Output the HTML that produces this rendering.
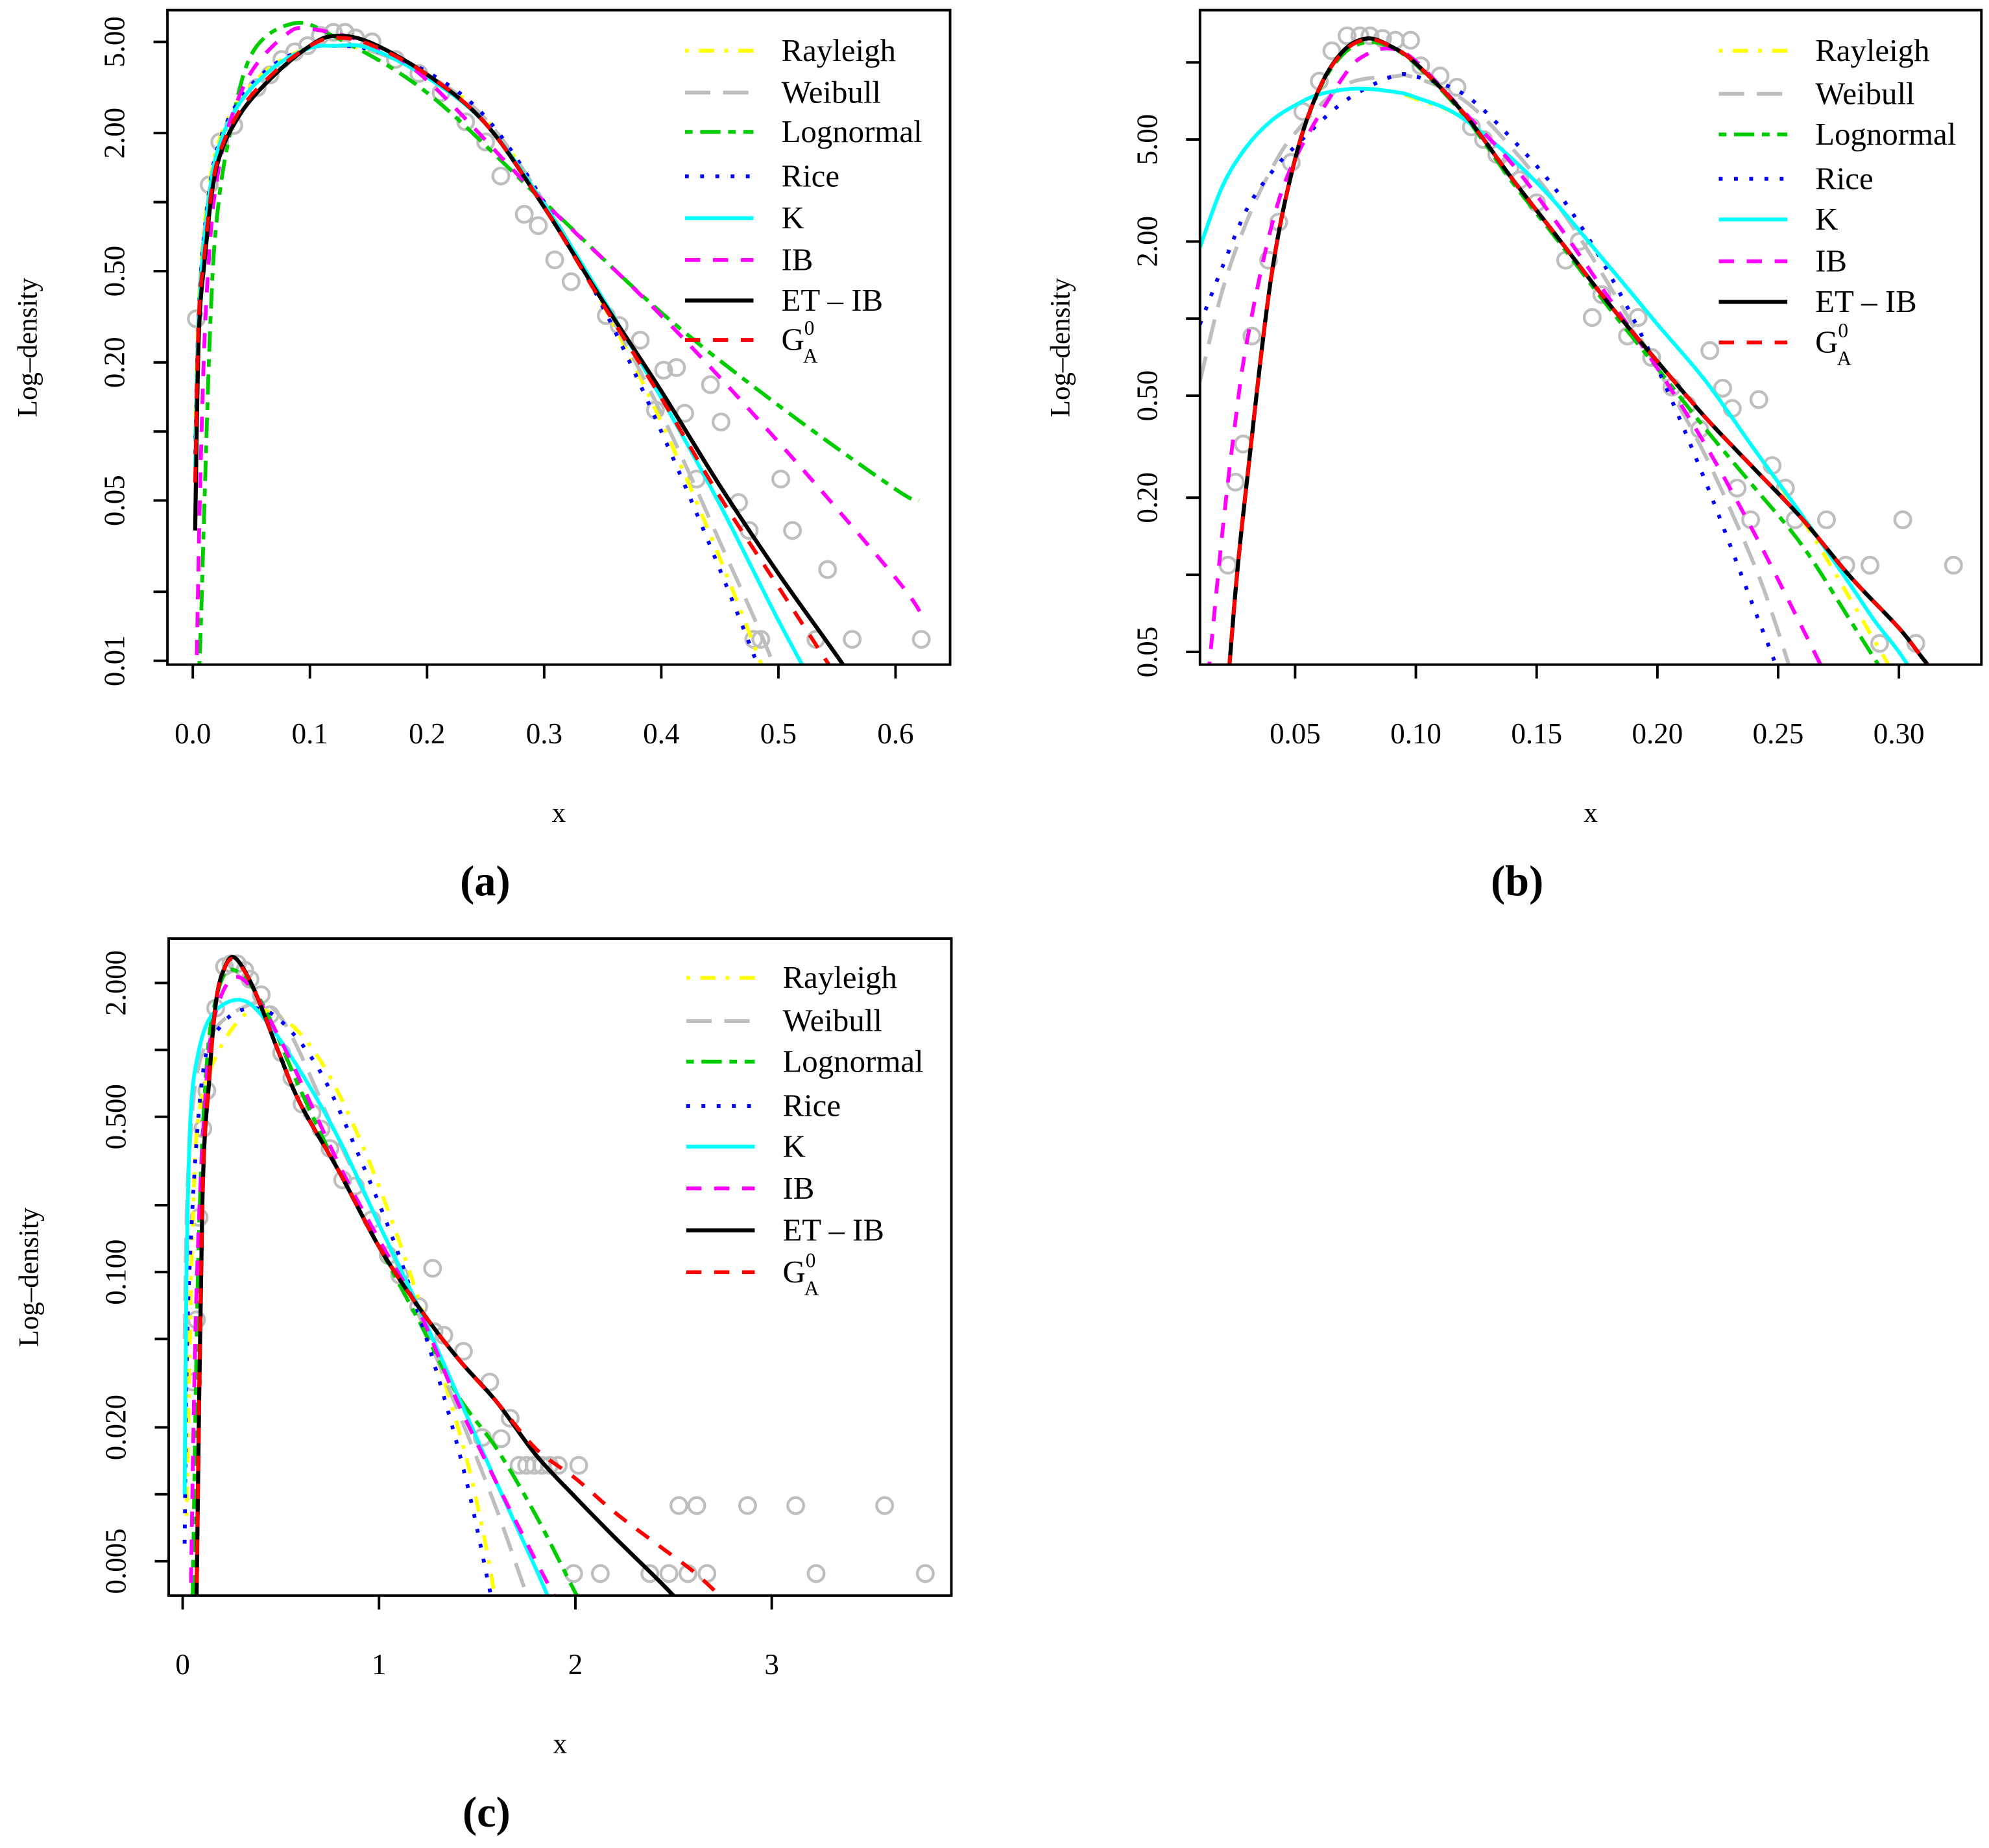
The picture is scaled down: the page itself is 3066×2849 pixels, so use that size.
<!DOCTYPE html>
<html><head><meta charset="utf-8">
<style>
html,body{margin:0;padding:0;background:#fff;}
svg{display:block;font-family:"Liberation Serif","DejaVu Serif",serif;}
svg text{font-family:"Liberation Serif","DejaVu Serif",serif;}
</style></head>
<body>
<svg id="fig" xmlns="http://www.w3.org/2000/svg" width="3066" height="2849" viewBox="0 0 1568 1457" preserveAspectRatio="none" font-family="Liberation Serif, DejaVu Serif, serif">
<rect x="0" y="0" width="1568" height="1457" fill="#fff"/>
</svg>
<script>
// ---------- Panel (a) data ----------
const aXTicks = [0, 0.1, 0.2, 0.3, 0.4, 0.5, 0.6];
const aXTickLabels = ["0.0","0.1","0.2","0.3","0.4","0.5","0.6"];
const aYTicks = [5, 2, 1, 0.5, 0.2, 0.1, 0.05, 0.02, 0.01];
const aYTickLabels = ["5.00","2.00","","0.50","0.20","","0.05","","0.01"];
const aPtsX = [0.003,0.014,0.023,0.035,0.055,0.066,0.076,0.087,0.098,0.109,0.12,0.13,0.139,0.153,0.173,0.193,0.212,0.233,0.25,0.263,0.283,0.295,0.309,0.323,0.353,0.364,0.382,0.395,0.402,0.413,0.42,0.442,0.451,0.43,0.466,0.475,0.502,0.512,0.542,0.479,0.485,0.532,0.563,0.622];
const aPtsY = [0.31,1.19,1.83,2.16,3.16,3.59,4.19,4.52,4.81,5.33,5.5,5.5,5.2,5.0,4.19,3.64,3.0,2.24,1.83,1.3,0.885,0.79,0.56,0.45,0.32,0.29,0.25,0.124,0.185,0.19,0.12,0.16,0.11,0.062,0.049,0.037,0.062,0.037,0.025,0.0124,0.0124,0.0124,0.0124,0.0124];
const aGridX = [0.002,0.005,0.01,0.02,0.04,0.07,0.1,0.12,0.15,0.2,0.25,0.3,0.35,0.4,0.45,0.5,0.55,0.6];
const aRayleigh = [0.1,0.35,0.8,1.7,2.8,4.0,4.7,4.8,4.6,3.6,2.3,1.0,0.36,0.11,0.028,0.006,0.001,0.0002];
const aWeibull = [0.09,0.33,0.75,1.6,2.7,3.9,4.7,4.8,4.6,3.6,2.3,1.0,0.37,0.12,0.033,0.0085,0.0015,0.0003];
const aRice = [0.08,0.32,0.75,1.65,2.8,4.0,4.7,4.8,4.65,3.7,2.35,1.0,0.35,0.1,0.025,0.0055,0.001,0.0002];
const aK = [0.07,0.3,0.7,1.6,2.7,3.9,4.7,4.8,4.7,3.5,2.2,0.98,0.38,0.14,0.048,0.015,0.005,0.0015];
const aETIB = [0.037,0.25,0.55,1.4,2.4,3.6,4.8,5.3,5.0,3.6,2.2,0.95,0.37,0.15,0.058,0.024,0.0105,0.0045];
const aG0A = [0.06,0.3,0.6,1.45,2.5,3.7,4.8,5.2,4.9,3.6,2.2,0.95,0.36,0.14,0.052,0.021,0.0085,0.0035];
const aLogX = [0.004,0.007,0.01,0.015,0.02,0.03,0.05,0.085,0.12,0.2,0.3,0.4,0.5,0.6,0.62];
const aLognormal = [0.006,0.015,0.05,0.3,0.8,1.8,4.4,6.0,5.3,3.0,1.0,0.33,0.13,0.056,0.05];
const aIBX = [0.003,0.006,0.01,0.015,0.02,0.03,0.05,0.08,0.1,0.15,0.2,0.3,0.4,0.5,0.6,0.625];
const aIB = [0.008,0.05,0.25,0.7,1.2,2.1,3.7,5.4,5.7,4.9,3.4,1.0,0.32,0.09,0.023,0.015];

// ---------- Panel (b) data ----------
const bXTicks = [0.05,0.10,0.15,0.20,0.25,0.30];
const bXTickLabels = ["0.05","0.10","0.15","0.20","0.25","0.30"];
const bYTicks = [10,5,2,1,0.5,0.2,0.1,0.05];
const bYTickLabels = ["","5.00","2.00","","0.50","0.20","","0.05"];
const bPtsX = [0.0222,0.0253,0.0285,0.0321,0.039,0.0432,0.0484,0.0532,0.06,0.0652,0.0715,0.0768,0.081,0.0862,0.0915,0.0978,0.102,0.11,0.117,0.123,0.128,0.1335,0.139,0.143,0.15,0.162,0.1676,0.173,0.177,0.1876,0.192,0.1976,0.206,0.2123,0.2175,0.2217,0.227,0.231,0.242,0.233,0.2386,0.2475,0.253,0.257,0.27,0.278,0.288,0.3016,0.292,0.307,0.3226];
const bPtsY = [0.109,0.23,0.324,0.855,1.69,2.38,4.07,6.43,8.45,11.1,12.7,12.7,12.7,12.4,12.2,12.2,9.7,8.85,8.0,5.6,5.0,4.37,3.89,3.48,2.83,1.69,2.0,1.01,1.24,0.855,1.01,0.705,0.54,0.46,0.37,0.75,0.535,0.446,0.483,0.218,0.164,0.267,0.218,0.164,0.164,0.109,0.109,0.164,0.054,0.054,0.109];
const bMainX = [0.02,0.025,0.03,0.04,0.05,0.06,0.07,0.08,0.09,0.1,0.12,0.14,0.16,0.18,0.2,0.22,0.24,0.26,0.28,0.3,0.31,0.32];
const bETIB = [0.02,0.08,0.23,1.43,4.2,7.9,11.1,12.4,11.5,9.9,6.3,3.5,2.0,1.14,0.68,0.41,0.26,0.165,0.098,0.062,0.047,0.036];
const bG0A = [0.02,0.08,0.23,1.43,4.2,7.9,11.0,12.3,11.5,9.9,6.3,3.5,2.0,1.14,0.68,0.41,0.26,0.165,0.098,0.062,0.047,0.036];
const bLognormal = [0.02,0.08,0.23,1.43,4.2,7.8,10.8,12.0,11.4,9.8,6.2,3.4,1.95,1.1,0.64,0.37,0.22,0.13,0.066,0.033,0.022,0.015];
const bLeftX = [0.0106,0.02,0.03,0.04,0.05,0.06,0.075,0.09,0.1,0.12,0.15,0.18,0.2,0.22,0.24,0.26,0.28,0.29,0.3,0.31];
const bK = [1.9,3.3,4.7,5.9,6.8,7.5,7.9,7.7,7.3,6.0,3.4,1.6,0.95,0.57,0.31,0.17,0.091,0.066,0.05,0.036];
const bRayleigh = [1.9,3.3,4.7,5.9,6.8,7.5,7.9,7.7,7.2,6.0,3.4,1.6,0.95,0.57,0.31,0.165,0.08,0.055,0.038,0.026];
const bRiceX = [0.0106,0.02,0.03,0.04,0.05,0.07,0.09,0.1,0.12,0.14,0.16,0.18,0.2,0.22,0.24,0.25,0.26];
const bRice = [0.95,1.6,2.67,3.7,4.7,7.0,8.8,8.8,7.5,5.0,3.0,1.5,0.64,0.23,0.074,0.042,0.022];
const bWeibull = [0.57,1.3,2.4,3.8,5.3,8.1,8.8,8.7,7.1,4.6,2.67,1.35,0.64,0.29,0.11,0.06,0.03];
const bIBX = [0.014,0.02,0.025,0.03,0.04,0.05,0.07,0.08,0.09,0.1,0.12,0.14,0.16,0.18,0.2,0.22,0.24,0.26,0.27];
const bIB = [0.04,0.15,0.38,0.81,2.25,4.2,8.8,10.8,11.3,10.1,6.4,4.0,2.25,1.2,0.64,0.32,0.146,0.062,0.04];

// ---------- Panel (c) data ----------
const cXTicks = [0,1,2,3];
const cXTickLabels = ["0","1","2","3"];
const cYTicks = [2,1,0.5,0.2,0.1,0.05,0.02,0.01,0.005];
const cYTickLabels = ["2.000","","0.500","","0.100","","0.020","","0.005"];
const cPtsX = [0.052,0.071,0.084,0.103,0.123,0.168,0.213,0.246,0.278,0.317,0.343,0.40,0.446,0.504,0.556,0.608,0.659,0.705,0.75,0.815,0.879,0.963,1.047,1.105,1.273,1.202,1.28,1.33,1.43,1.564,1.526,1.622,1.668,1.713,1.752,1.79,1.829,1.868,1.913,2.017,2.527,2.618,2.877,3.122,3.575,1.991,2.127,2.379,2.476,2.573,2.67,3.226,3.782];
const cPtsY = [0.032,0.061,0.176,0.442,0.655,1.54,2.37,2.44,2.44,2.28,2.08,1.77,1.44,0.97,0.75,0.57,0.52,0.44,0.36,0.26,0.244,0.172,0.119,0.097,0.104,0.07,0.054,0.052,0.044,0.032,0.018,0.0178,0.022,0.0135,0.0135,0.0135,0.0135,0.0135,0.0135,0.0135,0.0089,0.0089,0.0089,0.0089,0.0089,0.0044,0.0044,0.0044,0.0044,0.0044,0.0044,0.0044,0.0044];
const cETX = [0.07,0.1,0.136,0.17,0.21,0.265,0.36,0.49,0.6,0.8,1.0,1.2,1.4,1.6,1.8,2.0,2.2,2.4,2.5];
const cETIB = [0.003,0.2,0.75,1.65,2.3,2.6,1.9,0.97,0.57,0.28,0.13,0.07,0.041,0.026,0.015,0.0097,0.0064,0.0043,0.0035];
const cG0AX = [0.07,0.1,0.136,0.17,0.21,0.265,0.36,0.49,0.6,0.8,1.0,1.2,1.4,1.6,1.8,2.0,2.2,2.4,2.6,2.75];
const cG0A = [0.003,0.2,0.75,1.65,2.3,2.55,1.9,0.97,0.57,0.28,0.13,0.07,0.041,0.026,0.016,0.0118,0.0083,0.0061,0.0045,0.0034];
const cLogX = [0.05,0.08,0.12,0.17,0.25,0.4,0.6,0.8,1.0,1.2,1.4,1.6,1.8,2.0,2.05];
const cLognormal = [0.003,0.12,0.8,1.7,2.3,1.65,0.66,0.28,0.13,0.061,0.028,0.016,0.008,0.0036,0.003];
const cIBX = [0.04,0.07,0.12,0.18,0.3,0.5,0.8,1.0,1.2,1.4,1.6,1.8,1.9,1.95];
const cIB = [0.003,0.08,0.7,1.6,2.1,1.1,0.3,0.14,0.068,0.026,0.0112,0.005,0.0034,0.0028];
const cKX = [0.01,0.02,0.04,0.08,0.15,0.28,0.4,0.6,0.8,1.0,1.2,1.4,1.6,1.8,1.87];
const cK = [0.01,0.103,0.5,0.97,1.44,1.68,1.44,0.8,0.39,0.164,0.07,0.028,0.0112,0.0046,0.0033];
const cWeibullX = [0.01,0.03,0.1,0.3,0.5,0.8,1.0,1.2,1.4,1.6,1.75,1.8];
const cWeibull = [0.05,0.3,0.97,1.54,1.4,0.38,0.164,0.065,0.024,0.0085,0.0036,0.003];
const cRiceX = [0.01,0.03,0.1,0.2,0.35,0.5,0.7,0.9,1.1,1.3,1.45,1.57,1.6];
const cRice = [0.006,0.08,0.75,1.3,1.54,1.35,0.8,0.33,0.12,0.034,0.011,0.0035,0.0028];
const cRayleighX = [0.02,0.05,0.1,0.3,0.5,0.7,0.9,1.1,1.3,1.45,1.55,1.6];
const cRayleigh = [0.008,0.15,0.62,1.4,1.4,0.9,0.4,0.14,0.04,0.014,0.0055,0.003];

// ---------- drawing ----------
const NS = "http://www.w3.org/2000/svg";
const FONT = "Liberation Serif, DejaVu Serif, serif";
const svg = document.getElementById("fig");
function mk(tag, attrs, parent){
  const e = document.createElementNS(NS, tag);
  for (const k in attrs) e.setAttribute(k, attrs[k]);
  if (tag === "text") e.setAttribute("font-family", FONT);
  (parent||svg).appendChild(e);
  return e;
}
const STYLES = {
  Rayleigh:{color:"#ffff00", dash:"3 8 12 8", w:3},
  Weibull:{color:"#bebebe", dash:"20 10", w:3},
  Lognormal:{color:"#00cd00", dash:"6 6 16 6", w:3},
  Rice:{color:"#0000ff", dash:"3 9", w:3},
  K:{color:"#00ffff", dash:"", w:3},
  IB:{color:"#ff00ff", dash:"12 10", w:3},
  ETIB:{color:"#000000", dash:"", w:3.2},
  G0A:{color:"#ff0000", dash:"12 10", w:3}
};
function smoothPath(pts){
  if (pts.length < 2) return "";
  let d = "M" + pts[0][0].toFixed(2) + "," + pts[0][1].toFixed(2);
  for (let i = 0; i < pts.length - 1; i++){
    const p0 = pts[i-1] || pts[i], p1 = pts[i], p2 = pts[i+1], p3 = pts[i+2] || p2;
    const c1x = p1[0] + (p2[0]-p0[0])/6, c1y = p1[1] + (p2[1]-p0[1])/6;
    const c2x = p2[0] - (p3[0]-p1[0])/6, c2y = p2[1] - (p3[1]-p1[1])/6;
    d += " C" + c1x.toFixed(2)+","+c1y.toFixed(2)+" "+c2x.toFixed(2)+","+c2y.toFixed(2)+" "+p2[0].toFixed(2)+","+p2[1].toFixed(2);
  }
  return d;
}
function panel(cfg){
  const g = mk("g", {});
  
  
  const [L,T,R,B] = cfg.box;
  const sx = v => cfg.x0px + (v - cfg.x0) * cfg.xs;
  const sy = v => cfg.y0px + (Math.log10(cfg.y0) - Math.log10(v)) * cfg.ys;
  const clipId = "clip-" + cfg.id;
  const cp = mk("clipPath", {id: clipId}, g);
  mk("rect", {x:L, y:T, width:R-L, height:B-T}, cp);
  const pg = mk("g", {"clip-path":"url(#"+clipId+")"}, g);
  
  
  cfg.ptsX.forEach((xv, i) => {
    const c = mk("circle", {cx:sx(xv), cy:sy(cfg.ptsY[i]), r:6.3, fill:"none", stroke:"#bebebe", "stroke-width":2.2}, pg);
    
    
  });
  const cg = mk("g", {"clip-path":"url(#"+clipId+")"}, g);
  cfg.series.forEach(s => {
    const st = STYLES[s.key];
    const pts = s.x.map((xv, i) => [sx(xv), sy(s.y[i])]);
    const p = mk("path", {d:smoothPath(pts), fill:"none", stroke:st.color, "stroke-width":st.w, "stroke-dasharray":st.dash||"none", "stroke-linejoin":"round"}, cg);
    
    
  });
  const bx = mk("rect", {x:L, y:T, width:R-L, height:B-T, fill:"none", stroke:"#000", "stroke-width":2}, g);
  
  
  const xa = mk("g", {}, g);
  
  
  cfg.xTicks.forEach((v, i) => {
    const X = sx(v);
    mk("line", {x1:X, y1:B, x2:X, y2:B+11, stroke:"#000", "stroke-width":2}, xa);
    const t = mk("text", {x:X, y:B+62, "font-size":23, "text-anchor":"middle"}, xa);
    t.textContent = cfg.xLabels[i];
    
    
  });
  const ya = mk("g", {}, g);
  
  
  cfg.yTicks.forEach((v, i) => {
    const Y = sy(v);
    mk("line", {x1:L, y1:Y, x2:L-11, y2:Y, stroke:"#000", "stroke-width":2}, ya);
    if (cfg.yLabels[i]){
      const xb = L - 34;
      const t = mk("text", {x:xb, y:Y, "font-size":23, "text-anchor":"middle", transform:"rotate(-90 "+xb+" "+Y+")"}, ya);
      t.textContent = cfg.yLabels[i];
      
      
    }
  });
  const xt = mk("text", {x:(L+R)/2, y:B+124, "font-size":22, "text-anchor":"middle"}, g);
  xt.textContent = "x";
  
  
  const yx = L - 103, yy = (T+B)/2 + 8;
  const yt = mk("text", {x:yx, y:yy, "font-size":22, "text-anchor":"middle", transform:"rotate(-90 "+yx+" "+yy+")"}, g);
  yt.textContent = "Log\u2013density";
  
  
  const pl = mk("text", {x:(L+R)/2 - 58, y:B+182, "font-size":34, "font-weight":"bold", "text-anchor":"middle"}, g);
  pl.textContent = "(" + cfg.id + ")";
  
  
  const lg = mk("g", {}, g);
  
  
  const names = ["Rayleigh","Weibull","Lognormal","Rice","K","IB","ETIB","G0A"];
  names.forEach((k, i) => {
    const Y = cfg.legY[i];
    const st = STYLES[k];
    const e = mk("g", {}, lg);
    
    
    mk("line", {x1:cfg.legX, y1:Y, x2:cfg.legX+54, y2:Y, stroke:st.color, "stroke-width":st.w, "stroke-dasharray":st.dash||"none"}, e);
    const t = mk("text", {x:cfg.legX+76, y:Y+8, "font-size":25}, e);
    if (k === "ETIB") t.textContent = "ET \u2013 IB";
    else if (k === "G0A"){
      const a = mk("tspan", {}, t); a.textContent = "G";
      const b = mk("tspan", {"font-size":16, dy:-12}, t); b.textContent = "0";
      const c = mk("tspan", {"font-size":16, dx:-9, dy:22}, t); c.textContent = "A";
    } else t.textContent = k;
  });
}
panel({id:"a", box:[132,8,749,524], x0:0, x0px:152, xs:923.3, y0:5, y0px:33, ys:180.8,
  xTicks:aXTicks, xLabels:aXTickLabels, yTicks:aYTicks, yLabels:aYTickLabels,
  ptsX:aPtsX, ptsY:aPtsY, legX:540, legY:[40,73,104,139,172,205,237,268],
  series:[{key:"Rayleigh",x:aGridX,y:aRayleigh},{key:"Weibull",x:aGridX,y:aWeibull},{key:"Lognormal",x:aLogX,y:aLognormal},{key:"Rice",x:aGridX,y:aRice},{key:"K",x:aGridX,y:aK},{key:"IB",x:aIBX,y:aIB},{key:"ETIB",x:aGridX,y:aETIB},{key:"G0A",x:aGridX,y:aG0A}]});
panel({id:"b", box:[946,8,1562,524], x0:0.05, x0px:1021, xs:1904, y0:5, y0px:110, ys:202,
  xTicks:bXTicks, xLabels:bXTickLabels, yTicks:bYTicks, yLabels:bYTickLabels,
  ptsX:bPtsX, ptsY:bPtsY, legX:1355, legY:[40,74,106,141,173,206,238,270],
  series:[{key:"Rayleigh",x:bLeftX,y:bRayleigh},{key:"Weibull",x:bRiceX,y:bWeibull},{key:"Lognormal",x:bMainX,y:bLognormal},{key:"Rice",x:bRiceX,y:bRice},{key:"K",x:bLeftX,y:bK},{key:"IB",x:bIBX,y:bIB},{key:"ETIB",x:bMainX,y:bETIB},{key:"G0A",x:bMainX,y:bG0A}]});
panel({id:"c", box:[133,740,750,1258], x0:0, x0px:144, xs:154.8, y0:2, y0px:775, ys:175.2,
  xTicks:cXTicks, xLabels:cXTickLabels, yTicks:cYTicks, yLabels:cYTickLabels,
  ptsX:cPtsX, ptsY:cPtsY, legX:541, legY:[771,805,837,872,904,937,970,1003],
  series:[{key:"Rayleigh",x:cRayleighX,y:cRayleigh},{key:"Weibull",x:cWeibullX,y:cWeibull},{key:"Lognormal",x:cLogX,y:cLognormal},{key:"Rice",x:cRiceX,y:cRice},{key:"K",x:cKX,y:cK},{key:"IB",x:cIBX,y:cIB},{key:"ETIB",x:cETX,y:cETIB},{key:"G0A",x:cG0AX,y:cG0A}]});
</script>
</body></html>
